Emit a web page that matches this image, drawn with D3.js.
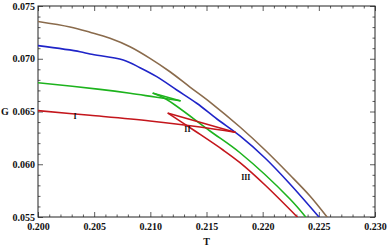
<!DOCTYPE html>
<html><head><meta charset="utf-8">
<script src="https://cdn.jsdelivr.net/npm/d3@7"></script>
<style>
html,body{margin:0;padding:0;background:#fff;}
svg{display:block;}
</style>
</head><body>
<svg id="chart" width="388" height="249"></svg>
<script>
// ---- data (T, G) ----
const xTicks = [0.200, 0.205, 0.210, 0.215, 0.220, 0.225, 0.230];
const xTickLabels = ["0.200", "0.205", "0.210", "0.215", "0.220", "0.225", "0.230"];
const yTicks = [0.055, 0.060, 0.065, 0.070, 0.075];
const yTickLabels = ["0.055", "0.060", "0.065", "0.070", "0.075"];

const brownCurve = [[0.2000,0.07353],[0.20285,0.07301],[0.20463,0.07251],[0.20641,0.07194],[0.20819,0.07114],[0.20997,0.07004],[0.21175,0.06877],[0.21353,0.06732],[0.21531,0.06590],[0.21798,0.06353],[0.22021,0.06135],[0.22243,0.05898],[0.22421,0.05699],[0.22573,0.05500]];
const blueCurve = [[0.2000,0.07124],[0.20374,0.07067],[0.20463,0.07045],[0.20759,0.06988],[0.20908,0.06915],[0.21057,0.06830],[0.21235,0.06704],[0.21413,0.06578],[0.21593,0.06429],[0.21798,0.06268],[0.22021,0.06059],[0.22243,0.05813],[0.22501,0.05500]];
const greenUpper = [[0.2000,0.06773],[0.20552,0.06710],[0.20819,0.06673],[0.21042,0.06637],[0.21264,0.06602]];
const greenMiddle = [[0.21264,0.06602],[0.21026,0.06673]];
const greenLower = [[0.21026,0.06673],[0.21139,0.06618],[0.21531,0.06315],[0.21798,0.06109],[0.22243,0.05671],[0.22383,0.05500]];
const redUpper = [[0.2000,0.06508],[0.20463,0.06464],[0.20997,0.06410],[0.21442,0.06353],[0.21754,0.06303]];
const redMiddle = [[0.21754,0.06303],[0.21160,0.06483]];
const redLower = [[0.21160,0.06483],[0.21398,0.06315],[0.21647,0.06135],[0.21798,0.06015],[0.22021,0.05803],[0.22308,0.05500]];

const regionLabels = ["I", "II", "III"];
const regionPos = [[0.20330,0.06455],[0.21330,0.06330],[0.21850,0.05875]];

// ---- chart ----
const svg = d3.select("#chart");
const x = d3.scaleLinear().domain([0.200, 0.230]).range([38, 375]);
const y = d3.scaleLinear().domain([0.055, 0.075]).range([217, 6]);
const serif = "'Liberation Serif','DejaVu Serif',serif";

svg.append("rect").attr("width",388).attr("height",249).attr("fill","#fff");

const xMinor = d3.range(0.200, 0.2305, 0.001).filter(v => Math.abs(Math.round(v*200)-v*200) > 1e-6);
const yMinor = d3.range(0.055, 0.0755, 0.001).filter(v => Math.abs(Math.round(v*200)-v*200) > 1e-6);

function styleAxis(g){
  g.select(".domain").remove();
  g.selectAll("line").attr("stroke","#333").attr("stroke-width",0.8);
  g.selectAll("text").attr("font-family",serif).attr("font-weight","bold").attr("font-size","10px").attr("fill","#111");
}

// bottom
svg.append("g").attr("transform","translate(0,217)")
  .call(d3.axisBottom(x).tickValues(xTicks).tickSize(-5).tickPadding(5.5).tickFormat((d,i)=>xTickLabels[i]))
  .call(styleAxis);
svg.append("g").attr("transform","translate(0,217)")
  .call(d3.axisBottom(x).tickValues(xMinor).tickSize(-2.5).tickFormat(""))
  .call(styleAxis);
// top
svg.append("g").attr("transform","translate(0,6)")
  .call(d3.axisTop(x).tickValues(xTicks).tickSize(-5).tickFormat(""))
  .call(styleAxis);
svg.append("g").attr("transform","translate(0,6)")
  .call(d3.axisTop(x).tickValues(xMinor).tickSize(-2.5).tickFormat(""))
  .call(styleAxis);
// left
svg.append("g").attr("transform","translate(38,0)")
  .call(d3.axisLeft(y).tickValues(yTicks).tickSize(-5).tickPadding(3).tickFormat((d,i)=>yTickLabels[i]))
  .call(styleAxis);
svg.append("g").attr("transform","translate(38,0)")
  .call(d3.axisLeft(y).tickValues(yMinor).tickSize(-2.5).tickFormat(""))
  .call(styleAxis);
// right
svg.append("g").attr("transform","translate(375,0)")
  .call(d3.axisRight(y).tickValues(yTicks).tickSize(-5).tickFormat(""))
  .call(styleAxis);
svg.append("g").attr("transform","translate(375,0)")
  .call(d3.axisRight(y).tickValues(yMinor).tickSize(-2.5).tickFormat(""))
  .call(styleAxis);

// frame
svg.append("rect").attr("x",38).attr("y",6).attr("width",337).attr("height",211)
  .attr("fill","none").attr("stroke","#222").attr("stroke-width",1);

// clip
svg.append("clipPath").attr("id","clip").append("rect")
  .attr("x",38).attr("y",6).attr("width",337).attr("height",211);

const line = d3.line().x(d=>x(d[0])).y(d=>y(d[1])).curve(d3.curveCatmullRom.alpha(0.5));
const plot = svg.append("g").attr("clip-path","url(#clip)");
const series = [
  [brownCurve, "#8a6b4c"],
  [blueCurve, "#1f24c8"],
  [greenUpper, "#1db31d"], [greenMiddle, "#1db31d"], [greenLower, "#1db31d"],
  [redUpper, "#c4161c"], [redMiddle, "#c4161c"], [redLower, "#c4161c"]
];
series.forEach(([data,color]) => {
  plot.append("path").attr("d", line(data)).attr("fill","none")
    .attr("stroke", color).attr("stroke-width",1.6)
    .attr("stroke-linejoin","round").attr("stroke-linecap","round");
});

// region labels
svg.selectAll("text.region").data(regionLabels).enter().append("text")
  .attr("class","region")
  .attr("x",(d,i)=>x(regionPos[i][0])).attr("y",(d,i)=>y(regionPos[i][1]))
  .attr("text-anchor","middle").attr("dy","0.35em")
  .attr("font-family",serif).attr("font-weight","bold").attr("font-size","8px").attr("fill","#111")
  .text(d=>d);

// axis titles
svg.append("text").attr("x",1).attr("y",114.5)
  .attr("font-family",serif).attr("font-weight","bold").attr("font-size","10px").attr("fill","#111").text("G");
svg.append("text").attr("x",206.5).attr("y",245).attr("text-anchor","middle")
  .attr("font-family",serif).attr("font-weight","bold").attr("font-size","10px").attr("fill","#111").text("T");
</script>
</body></html>
